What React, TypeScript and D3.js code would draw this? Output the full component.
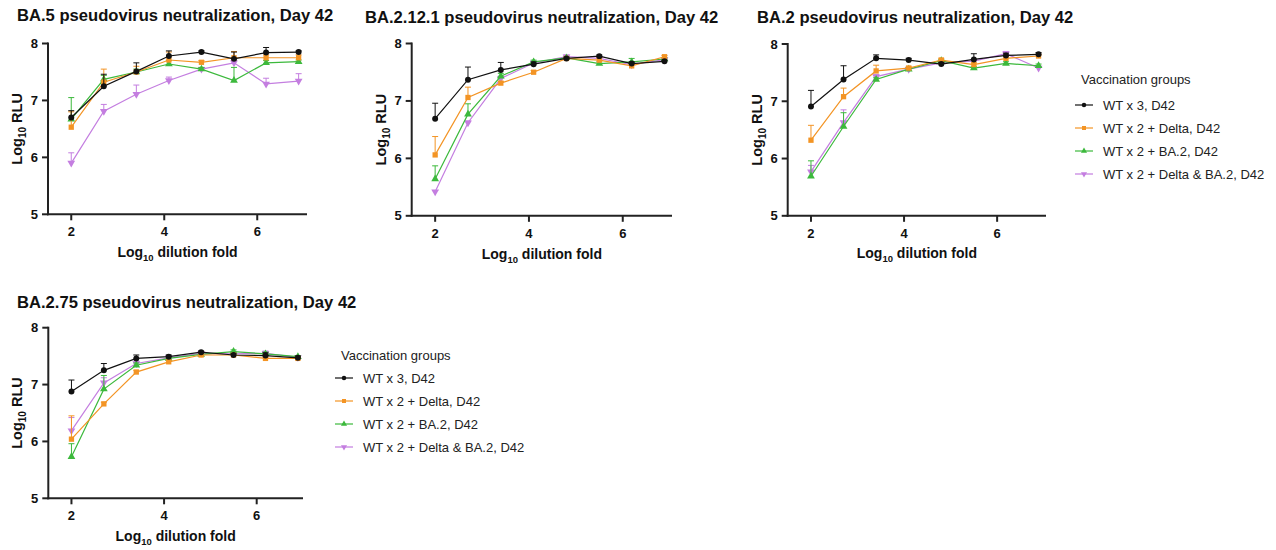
import React from "react";
import * as d3 from "d3";

const dilutions = [2.0, 2.7, 3.4, 4.1, 4.8, 5.5, 6.19, 6.89];
const xTicks = [2, 4, 6];
const yTicks = [5, 6, 7, 8];
const groupNames = [
  "WT x 3, D42",
  "WT x 2 + Delta, D42",
  "WT x 2 + BA.2, D42",
  "WT x 2 + Delta & BA.2, D42",
];
const panelTitles = [
  "BA.5 pseudovirus neutralization, Day 42",
  "BA.2.12.1 pseudovirus neutralization, Day 42",
  "BA.2 pseudovirus neutralization, Day 42",
  "BA.2.75 pseudovirus neutralization, Day 42",
];

// BA.5
const ba5Mean = [
  [6.70, 7.25, 7.51, 7.78, 7.85, 7.73, 7.84, 7.85],
  [6.53, 7.32, 7.50, 7.71, 7.67, 7.75, 7.75, 7.75],
  [6.67, 7.37, 7.50, 7.64, 7.55, 7.35, 7.66, 7.68],
  [5.90, 6.81, 7.11, 7.35, 7.55, 7.66, 7.29, 7.34],
];
const ba5Err = [
  [0.12, 0.21, 0.15, 0.09, 0.02, 0.12, 0.09, 0.02],
  [0.27, 0.23, 0.10, 0.14, 0.03, 0.11, 0.05, 0.05],
  [0.38, 0.07, 0.05, 0.06, 0.03, 0.23, 0.04, 0.03],
  [0.18, 0.12, 0.16, 0.06, 0.03, 0.04, 0.10, 0.13],
];
// BA.2.12.1
const ba2121Mean = [
  [6.69, 7.37, 7.54, 7.64, 7.74, 7.78, 7.65, 7.69],
  [6.06, 7.06, 7.31, 7.50, 7.74, 7.71, 7.61, 7.77],
  [5.64, 6.77, 7.43, 7.68, 7.75, 7.65, 7.68, 7.73],
  [5.42, 6.62, 7.39, 7.66, 7.77, 7.74, 7.63, 7.72],
];
const ba2121Err = [
  [0.27, 0.22, 0.13, 0.04, 0.02, 0.02, 0.03, 0.02],
  [0.32, 0.18, 0.03, 0.03, 0.02, 0.04, 0.03, 0.02],
  [0.23, 0.18, 0.05, 0.03, 0.02, 0.03, 0.06, 0.02],
  [0.02, 0.03, 0.04, 0.03, 0.03, 0.02, 0.03, 0.02],
];
// BA.2
const ba2Mean = [
  [6.91, 7.38, 7.75, 7.72, 7.65, 7.73, 7.80, 7.82],
  [6.32, 7.08, 7.53, 7.58, 7.72, 7.64, 7.75, 7.79],
  [5.69, 6.56, 7.38, 7.56, 7.71, 7.58, 7.66, 7.62],
  [5.77, 6.63, 7.43, 7.56, 7.67, 7.70, 7.83, 7.58],
];
const ba2Err = [
  [0.28, 0.24, 0.06, 0.03, 0.03, 0.10, 0.04, 0.03],
  [0.26, 0.15, 0.10, 0.03, 0.03, 0.03, 0.04, 0.02],
  [0.27, 0.24, 0.03, 0.03, 0.02, 0.03, 0.03, 0.03],
  [0.11, 0.22, 0.04, 0.03, 0.03, 0.03, 0.04, 0.03],
];
// BA.2.75
const ba275Mean = [
  [6.88, 7.25, 7.46, 7.49, 7.57, 7.52, 7.51, 7.47],
  [6.04, 6.66, 7.22, 7.40, 7.52, 7.52, 7.46, 7.46],
  [5.73, 6.92, 7.34, 7.46, 7.53, 7.58, 7.54, 7.49],
  [6.19, 7.03, 7.37, 7.47, 7.55, 7.54, 7.55, 7.48],
];
const ba275Err = [
  [0.20, 0.12, 0.06, 0.03, 0.02, 0.02, 0.05, 0.03],
  [0.41, 0.03, 0.03, 0.03, 0.02, 0.02, 0.02, 0.02],
  [0.23, 0.24, 0.04, 0.03, 0.02, 0.03, 0.03, 0.02],
  [0.23, 0.09, 0.04, 0.03, 0.02, 0.02, 0.04, 0.02],
];

const colors = ["#111111", "#F39424", "#3CB93C", "#C47EE0"];
const FONT = "'Liberation Sans', Arial, sans-serif";

type Layout = {
  left: number; right: number; top: number; bottom: number;
  xMax: number; titleX: number; titleY: number; yLabelX: number; xLabelY: number;
};

const layouts: Layout[] = [
  { left: 48, right: 307, top: 43.5, bottom: 214.3, xMax: 7.07, titleX: 17, titleY: 21, yLabelX: 22, xLabelY: 257 },
  { left: 411.7, right: 672, top: 43.5, bottom: 215.8, xMax: 7.05, titleX: 365, titleY: 23, yLabelX: 386, xLabelY: 259 },
  { left: 787.7, right: 1046, top: 44, bottom: 215.8, xMax: 7.05, titleX: 757, titleY: 22.5, yLabelX: 762, xLabelY: 258 },
  { left: 48.3, right: 303, top: 327.7, bottom: 498.3, xMax: 7.0, titleX: 17, titleY: 307.5, yLabelX: 22, xLabelY: 541 },
];

const panelData = [
  { mean: ba5Mean, err: ba5Err },
  { mean: ba2121Mean, err: ba2121Err },
  { mean: ba2Mean, err: ba2Err },
  { mean: ba275Mean, err: ba275Err },
];

function symbolPath(g: number, size: number) {
  const types = [d3.symbolCircle, d3.symbolSquare, d3.symbolTriangle, d3.symbolTriangle];
  return d3.symbol().type(types[g]).size(size)() as string;
}

function Marker({ g, x, y, size }: { g: number; x: number; y: number; size: number }) {
  const rot = g === 3 ? " rotate(180)" : "";
  return <path d={symbolPath(g, size)} transform={`translate(${x},${y})${rot}`} fill={colors[g]} />;
}

function Panel({ idx }: { idx: number }) {
  const L = layouts[idx];
  const { mean, err } = panelData[idx];
  const x = d3.scaleLinear().domain([1.5, L.xMax]).range([L.left, L.right]);
  const y = d3.scaleLinear().domain([5, 8]).range([L.bottom, L.top]);
  const line = d3.line<number>().x((_, i) => x(dilutions[i])).y((v) => y(v));
  const order = [3, 2, 1, 0];
  const midY = (L.top + L.bottom) / 2;
  const midX = (L.left + L.right) / 2;
  return (
    <g>
      <text x={L.titleX} y={L.titleY} fontFamily={FONT} fontWeight="bold" fontSize={16.6} fill="#111">
        {panelTitles[idx]}
      </text>
      {order.map((g) => (
        <g key={g}>
          {mean[g].map((v, i) => {
            const cx = x(dilutions[i]);
            const y0 = y(v);
            const y1 = y(v + err[g][i]);
            return (
              <g key={i} stroke={colors[g]} strokeWidth={1}>
                <line x1={cx} x2={cx} y1={y0} y2={y1} />
                <line x1={cx - 3} x2={cx + 3} y1={y1} y2={y1} />
              </g>
            );
          })}
          <path d={line(mean[g]) as string} fill="none" stroke={colors[g]} strokeWidth={1.2} />
          {mean[g].map((v, i) => (
            <Marker key={i} g={g} x={x(dilutions[i])} y={y(v)} size={g < 2 ? 28 : 26} />
          ))}
        </g>
      ))}
      {/* axes */}
      <g stroke="#222" strokeWidth={2} fill="none">
        <line x1={L.left} x2={L.left} y1={L.top - 1} y2={L.bottom + 1} />
        <line x1={L.left - 1} x2={L.right} y1={L.bottom} y2={L.bottom} />
        {yTicks.map((t) => (
          <line key={t} x1={L.left - 6} x2={L.left} y1={y(t)} y2={y(t)} />
        ))}
        {xTicks.map((t) => (
          <line key={t} x1={x(t)} x2={x(t)} y1={L.bottom} y2={L.bottom + 6} />
        ))}
      </g>
      {yTicks.map((t) => (
        <text key={t} x={L.left - 10} y={y(t) + 4.5} textAnchor="end" fontFamily={FONT} fontWeight="bold" fontSize={13} fill="#111">
          {t}
        </text>
      ))}
      {xTicks.map((t) => (
        <text key={t} x={x(t)} y={L.bottom + 22} textAnchor="middle" fontFamily={FONT} fontWeight="bold" fontSize={13} fill="#111">
          {t}
        </text>
      ))}
      <text x={midX} y={L.xLabelY} textAnchor="middle" fontFamily={FONT} fontWeight="bold" fontSize={14} fill="#111">
        Log<tspan fontSize={9.5} dy={4}>10</tspan>
        <tspan dy={-4}> dilution fold</tspan>
      </text>
      <text transform={`translate(${L.yLabelX},${midY}) rotate(-90)`} textAnchor="middle" fontFamily={FONT} fontWeight="bold" fontSize={14.5} fill="#111">
        Log<tspan fontSize={10} dy={4}>10</tspan>
        <tspan dy={-4}> RLU</tspan>
      </text>
    </g>
  );
}

function Legend({ lx, titleY, firstY }: { lx: number; titleY: number; firstY: number }) {
  return (
    <g fontFamily={FONT} fontSize={13} fill="#222">
      <text x={lx + 6} y={titleY + 4.5}>Vaccination groups</text>
      {groupNames.map((n, g) => {
        const cy = firstY + g * 23;
        return (
          <g key={g}>
            <line x1={lx} x2={lx + 18} y1={cy} y2={cy} stroke={colors[g]} strokeWidth={1.2} />
            <Marker g={g} x={lx + 9} y={cy} size={16} />
            <text x={lx + 28} y={cy + 4.5}>{n}</text>
          </g>
        );
      })}
    </g>
  );
}

export default function App() {
  return (
    <svg width={1276} height={550} style={{ position: "absolute", left: 0, top: 0, background: "#fff" }}>
      <rect width={1276} height={550} fill="#fff" />
      {[0, 1, 2, 3].map((i) => (
        <Panel key={i} idx={i} />
      ))}
      <Legend lx={1075} titleY={79} firstY={105} />
      <Legend lx={335} titleY={355} firstY={378} />
    </svg>
  );
}
